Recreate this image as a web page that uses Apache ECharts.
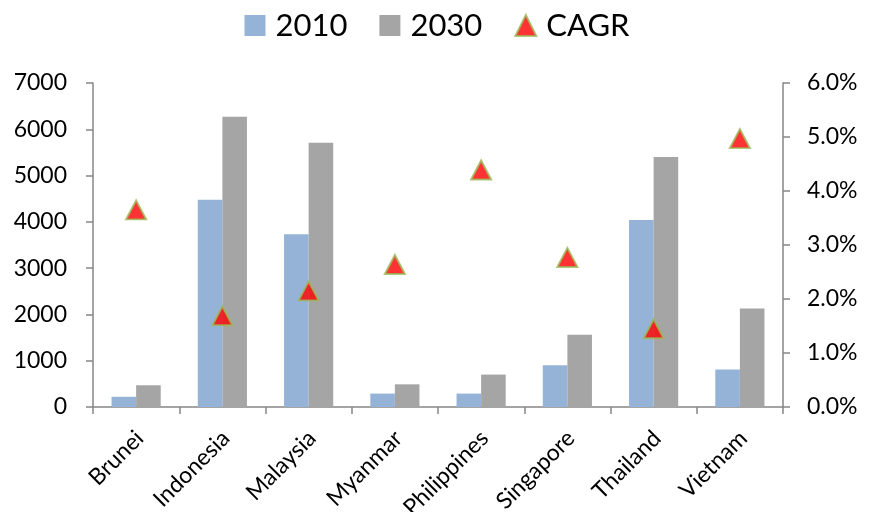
<!DOCTYPE html>
<html>
<head>
<meta charset="utf-8">
<script src="https://cdn.jsdelivr.net/npm/echarts@6/dist/echarts.min.js"></script>
<style>
  html, body { margin: 0; padding: 0; background: #fff; }
  #chart { width: 874px; height: 512px; }
</style>
</head>
<body>
<div id="chart"></div>
<script>
// Countries on the category axis
const countries = ['Brunei', 'Indonesia', 'Malaysia', 'Myanmar', 'Philippines', 'Singapore', 'Thailand', 'Vietnam'];
// Values for 2010 and 2030 (left axis)
const values2010 = [220, 4480, 3730, 290, 290, 900, 4040, 810];
const values2030 = [470, 6270, 5710, 490, 700, 1560, 5400, 2130];
// Compound annual growth rate, in percent (right axis)
const cagr = [3.65, 1.69, 2.15, 2.64, 4.39, 2.77, 1.45, 4.97];

const FONT = 'Lato';
const AXIS_GRAY = '#868686';

const chart = echarts.init(document.getElementById('chart'), null, { renderer: 'canvas' });

chart.setOption({
  animation: false,
  backgroundColor: '#ffffff',
  textStyle: { fontFamily: FONT },
  legend: {
    top: 5,
    left: 'center',
    itemWidth: 21,
    itemHeight: 21,
    itemGap: 32,
    textStyle: { fontFamily: FONT, fontSize: 31, color: '#000', padding: [0, 0, 0, 5] },
    data: [
      { name: '2010', icon: 'rect' },
      { name: '2030', icon: 'rect' },
      { name: 'CAGR' }
    ]
  },
  grid: { left: 93, right: 91, top: 83, bottom: 105, containLabel: false, outerBoundsMode: 'none' },
  xAxis: {
    type: 'category',
    data: countries,
    axisLine: { lineStyle: { color: AXIS_GRAY, width: 1.5 } },
    axisTick: { show: true, length: 7, lineStyle: { color: AXIS_GRAY, width: 1.5 } },
    axisLabel: {
      interval: 0, rotate: 45, margin: 24, fontFamily: FONT, fontSize: 23, color: '#000',
      verticalAlign: 'top', lineHeight: 10
    }
  },
  yAxis: [
    {
      type: 'value',
      min: 0, max: 7000, interval: 1000,
      splitLine: { show: false },
      axisLine: { show: true, lineStyle: { color: AXIS_GRAY, width: 1.5 } },
      axisTick: { show: true, length: 7, lineStyle: { color: AXIS_GRAY, width: 1.5 } },
      axisLabel: { margin: 26, fontFamily: FONT, fontSize: 23, color: '#000', formatter: v => String(v) }
    },
    {
      type: 'value',
      position: 'right',
      min: 0, max: 6, interval: 1,
      splitLine: { show: false },
      axisLine: { show: true, lineStyle: { color: AXIS_GRAY, width: 1.5 } },
      axisTick: { show: true, length: 7, lineStyle: { color: AXIS_GRAY, width: 1.5 } },
      axisLabel: {
        margin: 24, fontFamily: FONT, fontSize: 23, color: '#000',
        formatter: v => v.toFixed(1) + '%'
      }
    }
  ],
  series: [
    {
      name: '2010', type: 'bar', data: values2010,
      barGap: '0%', barCategoryGap: '43%',
      itemStyle: { color: '#95B3D7' }
    },
    {
      name: '2030', type: 'bar', data: values2030,
      barGap: '0%', barCategoryGap: '43%',
      itemStyle: { color: '#A5A5A5' }
    },
    {
      name: 'CAGR', type: 'scatter', yAxisIndex: 1, data: cagr,
      symbol: 'triangle', symbolSize: [20, 19],
      itemStyle: { color: '#FF0000', borderColor: '#9BBB59', borderWidth: 2 },
      z: 5
    }
  ]
});
</script>
</body>
</html>
